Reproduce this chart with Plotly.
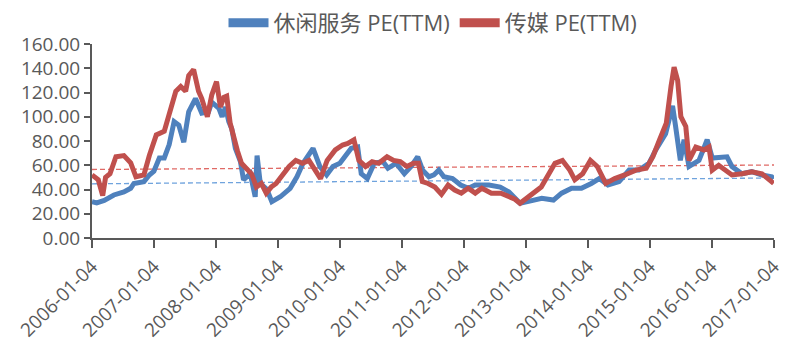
import pandas as pd
import plotly.graph_objects as go

# 休闲服务 PE(TTM)
leisure_dates = [
    "2006-01-04", "2006-02-01", "2006-03-17", "2006-05-13", "2006-07-11", "2006-08-20", "2006-09-08",
    "2006-11-06", "2006-12-08", "2007-01-04", "2007-02-05", "2007-03-06", "2007-04-04", "2007-05-03",
    "2007-05-31", "2007-06-29", "2007-07-28", "2007-09-06", "2007-10-13", "2007-11-22", "2007-12-11",
    "2008-01-22", "2008-02-10", "2008-03-01", "2008-03-20", "2008-04-07", "2008-04-28", "2008-05-28",
    "2008-06-15", "2008-07-25", "2008-08-23", "2008-09-03",
    "2008-09-22", "2008-10-31", "2008-11-29", "2009-01-18", "2009-03-17", "2009-04-26", "2009-06-01",
    "2009-07-11", "2009-07-30", "2009-09-08", "2009-10-18", "2009-11-24", "2010-01-04", "2010-02-02",
    "2010-03-12", "2010-04-19", "2010-05-10", "2010-06-15", "2010-07-26", "2010-09-15", "2010-10-14",
    "2010-12-01", "2011-01-19", "2011-02-28", "2011-04-08", "2011-05-07", "2011-06-13", "2011-07-12",
    "2011-08-10", "2011-09-09", "2011-10-30", "2011-12-17", "2012-02-01", "2012-03-12", "2012-06-01",
    "2012-08-06", "2012-09-27", "2012-12-01", "2013-02-08", "2013-04-08", "2013-06-16", "2013-08-03",
    "2013-10-01", "2013-11-28", "2014-01-25", "2014-03-13", "2014-05-03", "2014-07-08", "2014-09-05",
    "2014-11-02", "2014-12-31", "2015-02-09", "2015-04-08", "2015-05-19", "2015-06-06", "2015-07-04",
    "2015-07-26", "2015-08-24", "2015-10-22", "2015-12-09", "2016-01-08", "2016-03-06", "2016-04-04",
    "2016-05-03", "2016-07-01", "2016-08-28", "2016-10-27", "2016-12-24", "2017-01-04",
]
leisure_pe = [
    30, 29, 31, 35.5, 38, 41, 45,
    46.5, 52, 55, 66, 66, 77, 96,
    93, 79, 104, 115, 103, 104, 112,
    107, 100, 108, 96, 90, 74, 63,
    48, 53, 34, 68,
    45, 40, 30, 34, 41, 50.5, 61.6,
    70, 74, 59, 52, 59, 61.6, 67,
    74, 75, 53, 49, 61.6, 63, 57.5,
    61.6, 53, 59, 67, 56, 50.5, 52,
    56, 50.5, 49, 43.7, 41, 43.7, 43.7,
    42, 38, 28.6, 31.3, 32.7, 31.3, 37,
    41, 41, 45, 49, 43.7, 46.5, 56,
    56, 61.6, 72.6, 86, 109, 92, 64,
    81, 59, 64, 81, 66, 66, 67,
    59, 53, 54.7, 52, 50.5, 49,
]

# 传媒 PE(TTM)
media_dates = [
    "2006-01-04", "2006-02-10", "2006-03-08", "2006-03-25", "2006-04-20", "2006-05-25", "2006-07-11",
    "2006-08-20", "2006-09-20", "2006-11-06", "2006-12-08", "2007-01-18", "2007-03-06", "2007-04-04",
    "2007-05-13", "2007-06-11", "2007-07-10", "2007-07-28", "2007-08-26", "2007-09-24", "2007-10-13",
    "2007-11-15", "2007-12-11", "2008-01-08", "2008-01-31", "2008-02-20", "2008-03-08", "2008-03-28",
    "2008-04-16", "2008-05-10", "2008-06-03", "2008-07-02", "2008-08-01", "2008-08-30", "2008-09-28",
    "2008-10-27", "2008-11-25",
    "2008-12-24", "2009-02-01", "2009-03-11", "2009-04-19", "2009-05-28", "2009-07-06", "2009-08-14",
    "2009-09-12", "2009-10-21", "2009-12-08", "2010-01-20", "2010-02-20", "2010-03-28", "2010-04-26",
    "2010-06-04", "2010-07-13", "2010-08-21", "2010-10-09", "2010-11-17", "2010-12-26", "2011-02-03",
    "2011-03-14", "2011-04-12", "2011-05-05", "2011-06-08", "2011-07-18", "2011-08-26", "2011-10-04",
    "2011-11-12", "2011-12-21", "2012-01-30", "2012-03-12", "2012-04-20", "2012-06-15", "2012-08-10",
    "2012-09-27", "2012-11-01", "2012-12-01", "2013-01-10", "2013-02-10", "2013-04-05", "2013-05-10",
    "2013-06-25", "2013-08-08", "2013-09-20", "2013-10-20", "2013-12-05", "2014-01-20", "2014-03-01",
    "2014-04-20", "2014-06-12", "2014-08-10", "2014-10-15", "2014-12-15", "2015-01-23", "2015-03-03",
    "2015-04-12", "2015-05-10", "2015-05-28", "2015-06-18", "2015-07-07", "2015-08-05", "2015-08-24",
    "2015-10-03", "2015-11-20", "2015-12-20", "2016-01-08", "2016-02-15", "2016-03-26", "2016-05-03",
    "2016-07-01", "2016-08-28", "2016-10-27", "2016-12-05", "2017-01-04",
]
media_pe = [
    52, 48, 35, 50, 53, 67, 68,
    62, 50.5, 52, 68, 85, 88, 101,
    121, 125, 121, 134, 139, 121, 115,
    100, 118, 129, 108, 116, 117, 95,
    83.5, 72, 61.6, 57.5, 53, 42, 45,
    37, 42,
    45, 52, 59, 64, 61.6, 64, 56,
    49, 64, 72.6, 76.7, 78, 81, 64,
    59, 63, 61.6, 67, 64, 63, 59,
    61.6, 61.6, 46.5, 45, 42, 36, 43.7,
    39.6, 37, 41, 37, 41, 37, 37,
    34, 32, 28.6, 33, 37, 42, 50.5,
    61.6, 64, 56, 48, 53, 64, 59,
    45, 49, 52, 56, 57.5, 67, 81,
    94.6, 125, 141, 130, 100, 92, 64,
    75, 72.6, 75, 56, 60, 56, 52,
    53, 54.7, 53, 49, 45,
]

# linear trend lines (start / end values)
trend_dates = ["2006-01-04", "2017-01-06"]
leisure_trend = [44.7, 49.5]
media_trend = [56.5, 60.2]

year_ticks = ["2006-01-04", "2007-01-04", "2008-01-04", "2009-01-04", "2010-01-04", "2011-01-04",
              "2012-01-04", "2013-01-04", "2014-01-04", "2015-01-04", "2016-01-04", "2017-01-04"]

series_names = ["休闲服务 PE(TTM)", "传媒 PE(TTM)"]
blue = "#4F81BD"
red = "#C0504D"
FONT = "Open Sans, Noto Sans CJK SC, sans-serif"
AX = "#595959"

fig = go.Figure()

fig.add_trace(go.Scatter(x=trend_dates, y=leisure_trend, mode="lines", showlegend=False,
                         line=dict(color="#6FA3DD", width=1.3, dash="5px,3px")))
fig.add_trace(go.Scatter(x=trend_dates, y=media_trend, mode="lines", showlegend=False,
                         line=dict(color="#E06A66", width=1.3, dash="5px,3px")))

fig.add_trace(go.Scatter(x=leisure_dates, y=leisure_pe, mode="lines", showlegend=False,
                         line=dict(color=blue, width=5)))
fig.add_trace(go.Scatter(x=media_dates, y=media_pe, mode="lines", showlegend=False,
                         line=dict(color=red, width=5)))

# legend entries
for name, col in zip(series_names, [blue, red]):
    fig.add_trace(go.Scatter(x=[None], y=[None], mode="lines", name=name,
                             line=dict(color=col, width=9)))

fig.update_layout(
    width=785, height=354,
    margin=dict(l=92, r=11, t=44, b=116, autoexpand=False),
    paper_bgcolor="white", plot_bgcolor="white",
    font=dict(family=FONT, size=20, color=AX),
    showlegend=True,
    legend=dict(orientation="h", x=0.5, xanchor="center", y=1.0, yanchor="bottom",
                font=dict(size=22, color=AX), itemwidth=40, tracegroupgap=0,
                bgcolor="rgba(0,0,0,0)"),
    xaxis=dict(type="date", range=["2006-01-04", "2017-01-06"], automargin=False,
               tickvals=year_ticks, ticktext=year_ticks, tickangle=-45,
               ticklabeloverflow="allow",
               showgrid=False, zeroline=False, showline=True, linecolor=AX, linewidth=2,
               ticks="outside", ticklen=8, tickwidth=2, tickcolor=AX,
               tickfont=dict(size=19, color=AX)),
    yaxis=dict(range=[0, 160], dtick=20, tickformat=".2f", automargin=False,
               showgrid=False, zeroline=False, showline=True, linecolor=AX, linewidth=2,
               ticks="outside", ticklen=6, tickwidth=2, tickcolor=AX,
               tickfont=dict(size=19, color=AX)),
)

fig.write_html("out.html")
